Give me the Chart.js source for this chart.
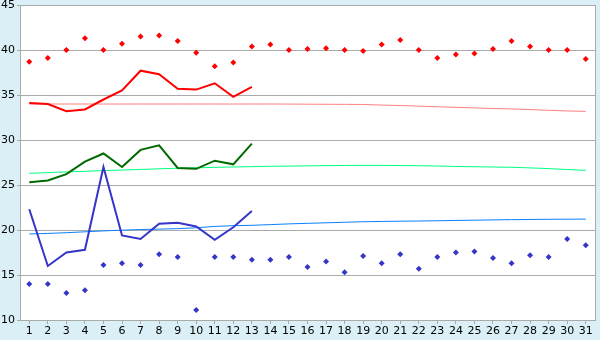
<!DOCTYPE html>
<html>
<head>
<meta charset="utf-8">
<script src="https://cdn.jsdelivr.net/npm/chart.js@4/dist/chart.umd.min.js"></script>
<style>
  html, body { margin: 0; padding: 0; background: #daf0f6; }
  #wrap { width: 600px; height: 340px; }
</style>
</head>
<body>
<div id="wrap"><canvas id="tempChart" width="600" height="340"></canvas></div>
<script>
// Days of the month
const days = [1,2,3,4,5,6,7,8,9,10,11,12,13,14,15,16,17,18,19,20,21,22,23,24,25,26,27,28,29,30,31];
const yTicks = [10, 15, 20, 25, 30, 35, 40, 45];

// Record highs (red dots) and record lows (blue dots)
const maxRecord = [38.7, 39.1, 40.0, 41.3, 40.0, 40.7, 41.5, 41.6, 41.0, 39.7, 38.2, 38.6, 40.4, 40.6, 40.0, 40.1,
  40.2, 40.0, 39.9, 40.6, 41.1, 40.0, 39.1, 39.5, 39.6, 40.1, 41.0, 40.4, 40.0, 40.0, 39.0];
const minRecord = [14.0, 14.0, 13.0, 13.3, 16.1, 16.3, 16.1, 17.3, 17.0, 11.1, 17.0, 17.0, 16.7, 16.7, 17.0, 15.9,
  16.5, 15.3, 17.1, 16.3, 17.3, 15.7, 17.0, 17.5, 17.6, 16.9, 16.3, 17.2, 17.0, 19.0, 18.3];

// This month so far (days 1-13)
const maxTemp = [34.1, 34.0, 33.2, 33.4, 34.5, 35.5, 37.7, 37.3, 35.7, 35.6, 36.3, 34.8, 35.9];
const meanTemp = [25.3, 25.5, 26.2, 27.6, 28.5, 27.0, 28.9, 29.4, 26.9, 26.8, 27.7, 27.3, 29.6];
const minTemp = [22.3, 16.0, 17.5, 17.8, 27.0, 19.4, 19.0, 20.7, 20.8, 20.4, 18.9, 20.3, 22.1];

// Long-term average curves
const maxNormal = [34.0, 34.0, 34.0, 34.0, 34.0, 34.0, 34.0, 34.0, 34.0, 34.0, 34.0, 34.0, 34.0, 34.0, 33.99, 33.98,
  33.97, 33.96, 33.95, 33.88, 33.83, 33.76, 33.7, 33.63, 33.57, 33.5, 33.45, 33.38, 33.3, 33.23, 33.18];
const meanNormal = [26.3, 26.38, 26.45, 26.52, 26.6, 26.66, 26.73, 26.8, 26.86, 26.91, 26.96, 27.0, 27.04, 27.08,
  27.1, 27.13, 27.15, 27.17, 27.18, 27.18, 27.16, 27.14, 27.11, 27.06, 27.03, 27.0, 26.97, 26.9, 26.82, 26.72, 26.63];
const minNormal = [19.56, 19.62, 19.7, 19.8, 19.9, 19.98, 20.05, 20.1, 20.15, 20.25, 20.4, 20.48, 20.52, 20.6, 20.68,
  20.74, 20.8, 20.86, 20.92, 20.95, 20.98, 21.0, 21.03, 21.06, 21.09, 21.12, 21.15, 21.17, 21.19, 21.2, 21.21];

const FONT = { family: "'DejaVu Sans', Verdana, sans-serif", size: 11 };

// white plot area + grey frame
const plotFrame = {
  id: "plotFrame",
  beforeDraw(chart) {
    const { ctx, chartArea: a } = chart;
    ctx.save();
    ctx.fillStyle = "#ffffff";
    ctx.fillRect(a.left, a.top, a.right - a.left, a.bottom - a.top);
    ctx.restore();
  },
  afterDraw(chart) {
    const { ctx, chartArea: a } = chart;
    ctx.save();
    ctx.strokeStyle = "#aaaaaa";
    ctx.lineWidth = 1;
    ctx.beginPath();
    ctx.moveTo(Math.round(a.right) + 0.5, a.top);
    ctx.lineTo(Math.round(a.right) + 0.5, a.bottom);
    ctx.stroke();
    ctx.restore();
  }
};

const dots = (data, color) => ({
  data, showLine: false, pointStyle: "rectRot", pointRadius: 3,
  pointBackgroundColor: color, pointBorderWidth: 0, borderColor: color
});
const line = (data, color, width) => ({
  data, borderColor: color, borderWidth: width, pointRadius: 0, tension: 0, fill: false
});

new Chart(document.getElementById("tempChart"), {
  type: "line",
  data: {
    labels: days,
    datasets: [
      dots(maxRecord, "#ff0000"),
      dots(minRecord, "#3535c8"),
      line(maxTemp, "#ff0000", 2),
      line(meanTemp, "#006a00", 2),
      line(minTemp, "#3535c8", 2),
      line(maxNormal, "#ff8080", 1),
      line(meanNormal, "#00ff80", 1),
      line(minNormal, "#0a80ff", 1)
    ]
  },
  options: {
    responsive: false,
    animation: false,
    layout: { padding: { top: 5, right: 5, left: 0, bottom: 0 } },
    plugins: { legend: { display: false }, tooltip: { enabled: false } },
    scales: {
      x: {
        offset: true,
        grid: { offset: false, drawOnChartArea: false, drawTicks: true, tickLength: 4, color: "#aaaaaa" },
        border: { color: "#aaaaaa" },
        ticks: { font: FONT, color: "#000", padding: 1, maxRotation: 0, autoSkip: false },
        afterFit: (s) => { s.height = 20; s.paddingLeft = 0; s.paddingRight = 0; }
      },
      y: {
        min: yTicks[0],
        max: yTicks[yTicks.length - 1],
        afterBuildTicks: (s) => { s.ticks = yTicks.map((v) => ({ value: v })); },
        grid: { color: "#aaaaaa", tickLength: 3 },
        border: { color: "#aaaaaa" },
        ticks: { font: FONT, color: "#000", padding: 2 },
        afterFit: (s) => { s.width = 20; s.paddingTop = 0; s.paddingBottom = 0; }
      }
    }
  },
  plugins: [plotFrame]
});
</script>
</body>
</html>
